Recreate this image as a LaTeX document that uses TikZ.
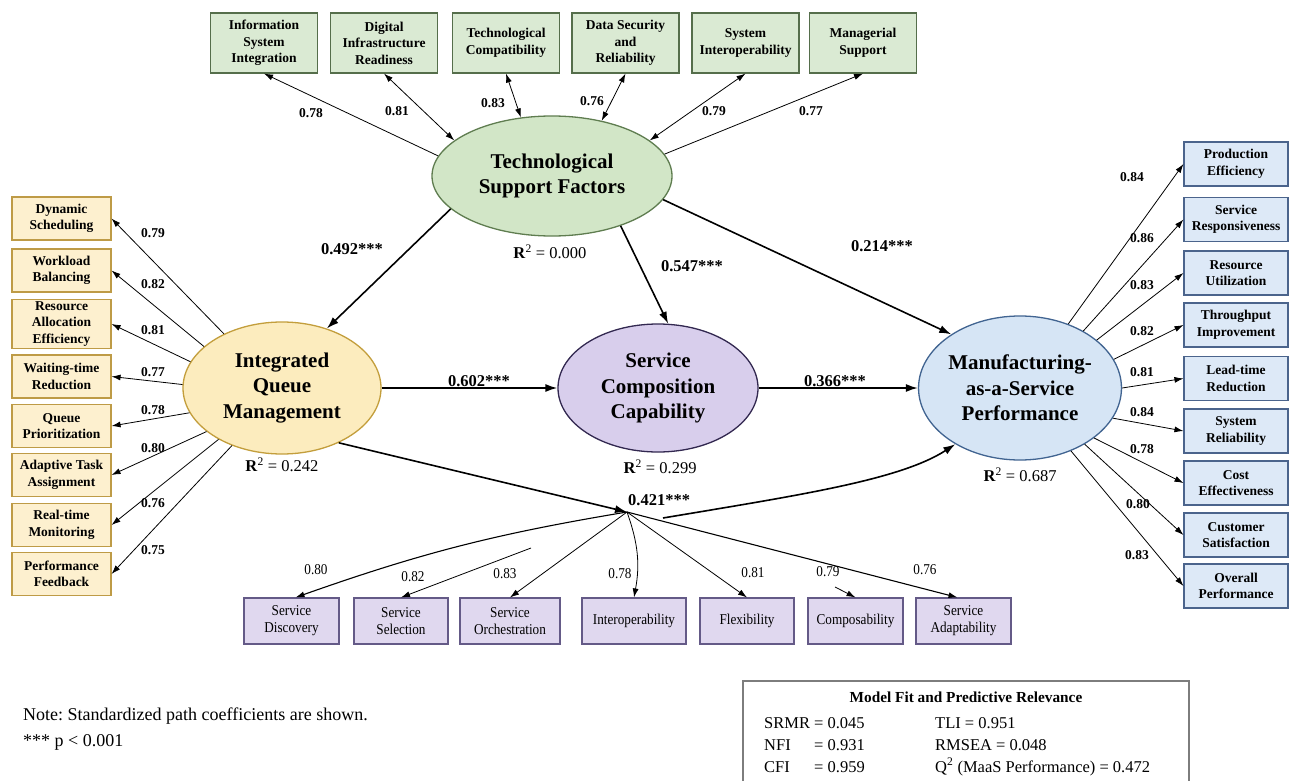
\documentclass[tikz,border=0pt]{standalone}
\usepackage{fontspec}
\setmainfont{Liberation Serif}
\newfontfamily\narrowFont{Liberation Serif}[FakeStretch=0.88]
\usepackage{tikz}
\usetikzlibrary{arrows.meta,shapes.geometric}
\definecolor{techFill}{RGB}{218,234,211}
\definecolor{techLine}{RGB}{85,110,75}
\definecolor{tsfFill}{RGB}{210,230,199}
\definecolor{tsfLine}{RGB}{95,125,80}
\definecolor{queueFill}{RGB}{253,240,207}
\definecolor{queueLine}{RGB}{190,155,70}
\definecolor{iqmFill}{RGB}{252,236,190}
\definecolor{iqmLine}{RGB}{195,158,60}
\definecolor{perfFill}{RGB}{221,233,247}
\definecolor{perfLine}{RGB}{75,100,140}
\definecolor{maasFill}{RGB}{214,229,245}
\definecolor{maasLine}{RGB}{65,100,145}
\definecolor{compFill}{RGB}{224,216,239}
\definecolor{compLine}{RGB}{100,90,135}
\definecolor{sccFill}{RGB}{216,206,236}
\definecolor{sccLine}{RGB}{50,40,80}
\definecolor{fitLine}{RGB}{125,125,125}
\tikzstyle{indicatorBox} = [draw, line width=1.1pt, align=center, inner sep=2pt, font=\fontsize{13.5}{16.5}\selectfont\bfseries]
\tikzstyle{techBox} = [indicatorBox, fill=techFill, draw=techLine, minimum width=107pt, minimum height=60pt]
\tikzstyle{queueBox} = [indicatorBox, fill=queueFill, draw=queueLine, minimum width=99pt, minimum height=43pt]
\tikzstyle{perfBox} = [indicatorBox, fill=perfFill, draw=perfLine, minimum width=104pt, minimum height=44pt]
\tikzstyle{compBox} = [indicatorBox, fill=compFill, draw=compLine, minimum height=46pt, font=\narrowFont\fontsize{15}{17}\selectfont]
\tikzstyle{latentVar} = [ellipse, line width=1.3pt, align=center, inner sep=0pt, font=\fontsize{21}{25.5}\selectfont\bfseries]
\tikzstyle{pathArrow} = [-{Latex[length=12pt,width=8pt]}, line width=1.6pt]
\tikzstyle{loadArrow} = [-{Latex[length=9pt,width=6pt]}, line width=0.8pt]
\tikzstyle{bothArrow} = [{Latex[length=9pt,width=6pt]}-{Latex[length=9pt,width=6pt]}, line width=0.8pt]
\tikzstyle{coefText} = [font=\fontsize{16.5}{18}\selectfont\bfseries]
\tikzstyle{loadText} = [font=\fontsize{13.5}{15}\selectfont\bfseries]
\tikzstyle{smallLoadText} = [font=\narrowFont\fontsize{15}{17}\selectfont]
\tikzstyle{rsqText} = [font=\fontsize{16.5}{18}\selectfont]
\tikzstyle{fitText} = [font=\fontsize{16.5}{18}\selectfont, anchor=west, inner sep=0pt]
\newcommand{\rsq}[1]{\textbf{R}\textsuperscript{2} = #1}
\frenchspacing
\begin{document}
\begin{tikzpicture}[x=1pt, y=-1pt]
  \useasboundingbox (0,0) rectangle (1298,781);

  \node[latentVar, fill=tsfFill, draw=tsfLine, minimum width=240pt, minimum height=120pt] (tsf) at (552,176) {Technological\\Support Factors};
  \node[latentVar, fill=iqmFill, draw=iqmLine, minimum width=198pt, minimum height=132pt] (iqm) at (282,388) {Integrated\\Queue\\Management};
  \node[latentVar, fill=sccFill, draw=sccLine, minimum width=200pt, minimum height=128pt] (scc) at (658,388) {Service\\Composition\\Capability};
  \node[latentVar, fill=maasFill, draw=maasLine, minimum width=196pt, minimum height=144pt] (maas) at (1020,388) {Manufacturing-\\as-a-Service\\Performance};

  \node[rsqText] (rsqTsf) at (550,252) {\rsq{0.000}};
  \node[rsqText] (rsqIqm) at (282,465) {\rsq{0.242}};
  \node[rsqText] (rsqScc) at (660,467) {\rsq{0.299}};
  \node[rsqText] (rsqMaas) at (1020,475) {\rsq{0.687}};

  \foreach \name/\xPos/\txt in {info/264/{Information\\System\\Integration}, digInfra/384/{Digital\\Infrastructure\\Readiness}, techCompat/506/{Technological\\Compatibility}, dataSec/625.5/{Data Security\\and\\Reliability}, sysInterop/745.5/{System\\Interoperability}, mgmtSupport/863/{Managerial\\Support}}
    \node[techBox] (\name) at (\xPos,43) {\txt};
  \foreach \name/\ang/\arrowStyle/\load/\lx/\ly in {info/170/loadArrow/0.78/311/113, digInfra/160/bothArrow/0.81/397/111, techCompat/118/bothArrow/0.83/493/103, dataSec/48/bothArrow/0.76/592/101, sysInterop/20.5/bothArrow/0.79/714/111, mgmtSupport/11/loadArrow/0.77/811/111} {
    \draw[\arrowStyle] (tsf.\ang) -- (\name.south);
    \node[loadText] (load-\name) at (\lx,\ly) {\load};
  }

  \foreach \name/\yPos/\txt in {dynSched/218.5/{Dynamic\\Scheduling}, workBal/270.5/{Workload\\Balancing}, resAlloc/324/{Resource\\Allocation\\Efficiency}, waitRed/376.5/{Waiting-time\\Reduction}, queuePrio/426/{Queue\\Prioritization}, taskAssign/475/{Adaptive Task\\Assignment}, realMon/525/{Real-time\\Monitoring}, perfFeed/574/{Performance\\Feedback}}
    \node[queueBox] (\name) at (61.5,\yPos) {\txt};
  \foreach \name/\ang/\load/\ly in {dynSched/137/0.79/233, workBal/152/0.82/284, resAlloc/164/0.81/330, waitRed/178/0.77/372, queuePrio/195/0.78/410, taskAssign/210/0.80/448, realMon/219/0.76/503, perfFeed/229/0.75/550} {
    \draw[loadArrow] (iqm.\ang) -- (\name.east);
    \node[loadText] (load-\name) at (153,\ly) {\load};
  }

  \foreach \name/\yPos/\txt in {prodEff/164/{Production\\Efficiency}, servResp/219.5/{Service\\Responsiveness}, resUtil/273/{Resource\\Utilization}, throughput/325/{Throughput\\Improvement}, leadTime/378.5/{Lead-time\\Reduction}, sysRel/431/{System\\Reliability}, costEff/483/{Cost\\Effectiveness}, custSat/535/{Customer\\Satisfaction}, overallPerf/586/{Overall\\Performance}}
    \node[perfBox] (\name) at (1236,\yPos) {\txt};
  \foreach \name/\ang/\load/\lx/\ly in {prodEff/53/0.84/1132/177, servResp/42/0.86/1142/238, resUtil/32/0.83/1142/285, throughput/17.5/0.82/1142/331, leadTime/0.6/0.81/1142/372, sysRel/-18/0.84/1142/412, costEff/-34/0.78/1142/449, custSat/-41/0.80/1138/504, overallPerf/-51/0.83/1137/555} {
    \draw[loadArrow] (maas.\ang) -- (\name.west);
    \node[loadText] (load-\name) at (\lx,\ly) {\load};
  }

  \foreach \name/\xPos/\boxWd/\txt in {svcDisc/291.5/95/{Service\\Discovery}, svcSel/401/94/{Service\\Selection}, svcOrch/510/100/{Service\\Orchestration}, interop/634/104/{Interoperability}, flexib/747/94/{Flexibility}, compos/855.5/95/{Composability}, svcAdapt/963.5/95/{Service\\Adaptability}}
    \node[compBox, minimum width=\boxWd pt] (\name) at (\xPos,621) {\txt};

  \coordinate (hub) at (627,512);
  \coordinate (hubOut) at (663,518);
  \coordinate (selStub) at (531,548);
  \coordinate (composStub) at (835,587);

  \draw[pathArrow] (tsf.198) -- (iqm.53);
  \draw[pathArrow] (tsf.-36) -- (scc.81.5);
  \draw[pathArrow] (tsf.-12) -- (maas.142);
  \draw[pathArrow] (iqm) -- (scc);
  \draw[pathArrow] (scc) -- (maas);
  \draw[pathArrow] (iqm.-44) -- (hub);
  \draw[pathArrow] (hubOut) .. controls (800,495) and (900,480) .. (maas.221);

  \node[coefText] (coefTsfIqm) at (352,249) {0.492***};
  \node[coefText] (coefTsfScc) at (692,266) {0.547***};
  \node[coefText] (coefTsfMaas) at (882,246) {0.214***};
  \node[coefText] (coefIqmScc) at (479,381) {0.602***};
  \node[coefText] (coefSccMaas) at (835,381) {0.366***};
  \node[coefText, anchor=west, inner sep=0pt] (coefIqmMaas) at (628,500) {0.421***};

  \draw[loadArrow, line width=1.1pt] (hub) to[bend right=5] ([xshift=4pt]svcDisc.north);
  \draw[loadArrow] (selStub) -- (svcSel.north);
  \draw[loadArrow] (hub) -- (svcOrch.north);
  \draw[loadArrow] (hub) to[bend left=15] (interop.north);
  \draw[loadArrow] (hub) -- (flexib.north);
  \draw[loadArrow] (composStub) -- (compos.north);
  \draw[loadArrow, line width=1.1pt] (hub) -- ([xshift=-6pt]svcAdapt.north);

  \foreach \name/\load/\lx/\ly in {svcDisc/0.80/316/570, svcSel/0.82/413/577, svcOrch/0.83/505/574, interop/0.78/620/574, flexib/0.81/753/573, compos/0.79/828/572, svcAdapt/0.76/925/570}
    \node[smallLoadText] (load-\name) at (\lx,\ly) {\load};

  \node[font=\fontsize{18}{20}\selectfont, anchor=west, inner sep=0pt] (noteLine) at (23,716) {Note: Standardized path coefficients are shown.};
  \node[font=\fontsize{18}{20}\selectfont, anchor=west, inner sep=0pt] (sigLine) at (23,742) {*** p < 0.001};

  \draw[fitLine, line width=1.2pt] (743,790) -- (743,681) -- (1189,681) -- (1189,790);
  \node[font=\fontsize{15.3}{17}\selectfont\bfseries] (fitTitle) at (966,697) {Model Fit and Predictive Relevance};
  \node[fitText] (srmrVal) at (764,723) {SRMR = 0.045};
  \node[fitText] (nfiKey) at (764,745) {NFI};
  \node[fitText] (nfiVal) at (814,745) {= 0.931};
  \node[fitText] (cfiKey) at (764,767) {CFI};
  \node[fitText] (cfiVal) at (814,767) {= 0.959};
  \node[fitText] (tliVal) at (935,723) {TLI = 0.951};
  \node[fitText] (rmseaVal) at (935,745) {RMSEA = 0.048};
  \node[fitText] (qsqVal) at (935,767) {Q\textsuperscript{2} (MaaS Performance) = 0.472};
\end{tikzpicture}
\end{document}
